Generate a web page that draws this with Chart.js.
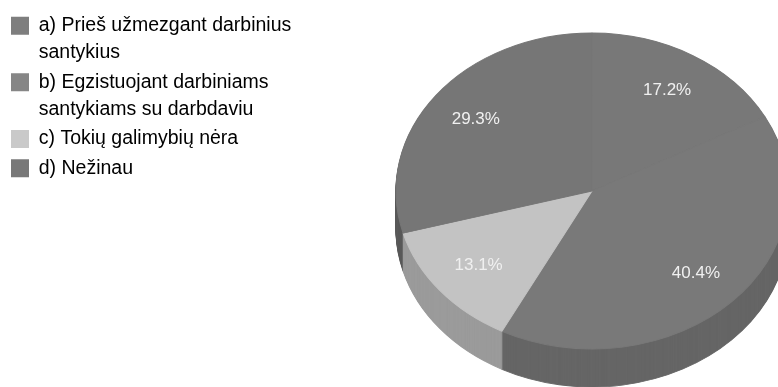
<!DOCTYPE html>
<html>
<head>
<meta charset="utf-8">
<style>
html, body { margin: 0; padding: 0; background: #fff; }
#wrap { width: 778px; height: 387px; overflow: hidden; }
</style>
<script src="https://cdn.jsdelivr.net/npm/chart.js@4/dist/chart.umd.min.js"></script>
</head>
<body>
<div id="wrap"><canvas id="pie"></canvas></div>
<script>
const CATEGORIES = [
    ['a) Prieš užmezgant darbinius', 'santykius'],
    ['b) Egzistuojant darbiniams', 'santykiams su darbdaviu'],
    ['c) Tokių galimybių nėra'],
    ['d) Nežinau']
];
const VALUES = [17.2, 40.4, 13.1, 29.3];
const TOP_COLORS = ['#787878', '#797979', '#c3c3c3', '#767676'];
const SIDE_COLORS = ['#626262', '#666666', '#9b9b9b', '#5a5a5a'];
const LEGEND_COLORS = ['#7e7e7e', '#868686', '#c9c9c9', '#787878'];

// tilted pie: face ellipse and rim height, in canvas pixels
const FACE = { x: 592, y: 191, rx: 196, ry: 158, depth: 38 };

function applyTilt(ctx, arc, dy) {
    ctx.translate(FACE.x, FACE.y + dy);
    ctx.scale(FACE.rx / arc.outerRadius, FACE.ry / arc.outerRadius);
    ctx.translate(-arc.x, -arc.y);
}

const tiltedPie = {
    id: 'tiltedPie',
    beforeDatasetDraw(chart, args) {
        const ctx = chart.ctx;
        const arcs = args.meta.data;
        // rim first, the same arcs stacked downward in the darker colours
        for (let dy = FACE.depth; dy >= 1; dy--) {
            arcs.forEach((arc, i) => {
                const saved = arc.options;
                arc.options = Object.assign({}, saved, {
                    backgroundColor: SIDE_COLORS[i],
                    borderColor: SIDE_COLORS[i]
                });
                ctx.save();
                applyTilt(ctx, arc, dy);
                arc.draw(ctx);
                ctx.restore();
                arc.options = saved;
            });
        }
        ctx.save();
        applyTilt(ctx, arcs[0], 0);
    },
    afterDatasetDraw(chart, args) {
        const ctx = chart.ctx;
        ctx.restore();
        // percentage labels on the face
        ctx.save();
        ctx.font = '17px "Liberation Sans", Arial, sans-serif';
        ctx.fillStyle = '#f0f0f0';
        ctx.textAlign = 'center';
        ctx.textBaseline = 'middle';
        args.meta.data.forEach((arc, i) => {
            const mid = (arc.startAngle + arc.endAngle) / 2;
            const tx = FACE.x + Math.cos(mid) * FACE.rx * 0.745;
            const ty = FACE.y + Math.sin(mid) * FACE.ry * 0.745;
            ctx.fillText(VALUES[i].toFixed(1) + '%', tx, ty);
        });
        ctx.restore();
    }
};

new Chart(document.getElementById('pie'), {
    type: 'pie',
    data: {
        labels: CATEGORIES.map(c => c.join(' ')),
        datasets: [{
            data: VALUES,
            backgroundColor: TOP_COLORS,
            borderColor: TOP_COLORS,
            borderWidth: 1
        }]
    },
    options: {
        responsive: true,
        maintainAspectRatio: false,
        animation: false,
        layout: { padding: { left: 9, top: 14 } },
        plugins: {
            tooltip: { enabled: false },
            legend: {
                position: 'left',
                align: 'start',
                labels: {
                    color: '#4a4a4a',
                    font: { family: '"Liberation Sans", Arial, sans-serif', size: 19.5, lineHeight: 1.4 },
                    boxWidth: 18,
                    boxHeight: 18,
                    padding: 2,
                    generateLabels() {
                        return CATEGORIES.map((text, i) => ({
                            text: text,
                            fillStyle: LEGEND_COLORS[i],
                            strokeStyle: LEGEND_COLORS[i],
                            lineWidth: 0,
                            index: i
                        }));
                    }
                }
            }
        }
    },
    plugins: [tiltedPie]
});
</script>
</body>
</html>
